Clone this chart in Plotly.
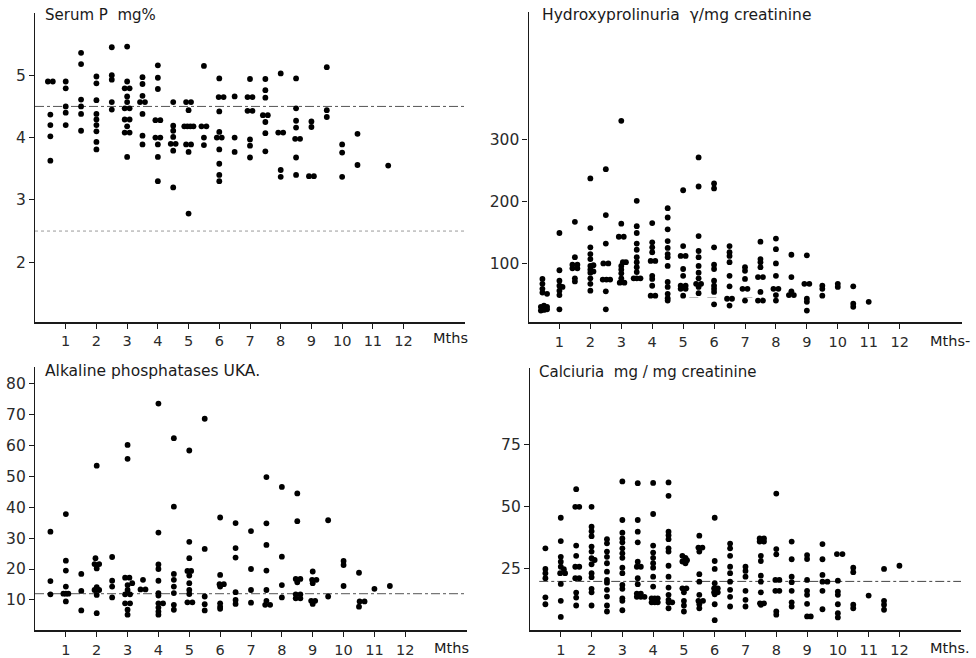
import plotly.graph_objects as go

# ---------------- data (month, value) ----------------
serum_p_points = [
    (0.42, 4.9), (0.58, 4.9), (0.5, 4.37), (0.5, 4.2), (0.5, 4.02), (0.5, 3.63),
    (1.0, 4.9), (1.0, 4.79), (1.0, 4.5), (1.0, 4.4), (1.0, 4.2),
    (1.5, 5.36), (1.5, 5.18), (1.5, 4.61), (1.5, 4.5), (1.5, 4.38), (1.5, 4.11),
    (2.0, 4.98), (2.0, 4.87), (2.0, 4.6), (2.0, 4.38), (2.0, 4.29), (2.0, 4.2), (2.0, 4.1), (2.0, 3.93), (2.0, 3.81),
    (2.5, 5.45), (2.5, 5.0), (2.5, 4.93), (2.5, 4.57), (2.5, 4.45),
    (3.0, 5.46), (3.0, 4.9), (2.92, 4.79), (3.08, 4.79), (3.0, 4.66), (3.0, 4.57), (2.92, 4.47), (3.08, 4.47),
    (2.92, 4.29), (3.08, 4.29), (3.0, 4.18), (2.92, 4.08), (3.08, 4.08), (3.0, 3.69),
    (3.5, 4.97), (3.5, 4.86), (3.5, 4.67), (3.42, 4.57), (3.58, 4.57), (3.5, 4.38), (3.5, 4.03), (3.5, 3.89),
    (4.0, 5.16), (4.0, 4.96), (4.0, 4.78), (3.92, 4.28), (4.08, 4.28), (3.92, 4.0), (4.08, 4.0), (4.0, 3.89), (4.0, 3.69), (4.0, 3.3),
    (4.5, 4.57), (4.5, 4.19), (4.5, 4.11), (4.5, 4.01), (4.42, 3.9), (4.58, 3.9), (4.5, 3.79), (4.5, 3.2),
    (4.92, 4.57), (5.08, 4.57), (5.0, 4.44), (4.86, 4.18), (4.96, 4.18), (5.06, 4.18), (5.16, 4.18),
    (4.92, 3.89), (5.08, 3.89), (5.0, 3.77), (5.0, 2.78),
    (5.5, 5.15), (5.42, 4.18), (5.58, 4.18), (5.5, 4.0), (5.5, 3.88),
    (6.0, 4.95), (5.98, 4.65), (6.14, 4.65), (6.0, 4.42), (6.0, 4.09), (5.92, 4.0), (6.08, 4.0), (6.0, 3.81), (6.0, 3.58), (6.0, 3.4), (6.0, 3.3),
    (6.5, 4.66), (6.5, 4.0), (6.5, 3.77),
    (7.0, 4.94), (6.92, 4.65), (7.08, 4.65), (6.92, 4.43), (7.08, 4.43), (7.0, 3.97), (7.0, 3.87), (7.0, 3.68),
    (7.5, 4.94), (7.5, 4.76), (7.5, 4.64), (7.42, 4.36), (7.58, 4.36), (7.5, 4.25), (7.5, 4.07), (7.5, 3.78),
    (8.0, 5.03), (7.92, 4.08), (8.08, 4.08), (8.0, 3.48), (8.0, 3.37),
    (8.5, 4.95), (8.5, 4.47), (8.5, 4.27), (8.5, 4.16), (8.47, 3.98), (8.63, 3.98), (8.5, 3.68), (8.5, 3.4),
    (9.0, 4.26), (9.0, 4.17), (8.92, 3.38), (9.08, 3.38),
    (9.5, 5.13), (9.5, 4.44), (9.5, 4.33),
    (10.0, 3.89), (10.0, 3.76), (10.0, 3.37),
    (10.5, 4.06), (10.5, 3.56),
    (11.5, 3.55),
]

hydroxy_points = [
    (0.45, 75), (0.45, 67), (0.45, 59), (0.45, 53), (0.6, 51),
    (0.4, 30), (0.5, 32), (0.6, 30), (0.4, 24), (0.5, 25), (0.6, 26), (0.45, 28),
    (1.0, 149), (1.0, 89), (1.0, 72), (1.0, 64), (1.1, 62), (1.0, 56), (1.0, 49), (1.0, 26),
    (1.5, 167), (1.5, 110), (1.42, 98), (1.58, 98), (1.42, 92), (1.58, 92), (1.5, 76), (1.5, 71),
    (2.0, 237), (2.0, 157), (2.0, 126), (2.0, 115), (2.0, 107), (2.0, 96), (2.1, 97), (2.0, 90), (2.1, 87),
    (2.0, 85), (2.0, 76), (2.0, 67), (2.0, 56),
    (2.5, 252), (2.5, 178), (2.5, 132), (2.42, 100), (2.58, 100), (2.4, 74), (2.52, 74), (2.64, 74), (2.5, 55), (2.5, 26),
    (3.0, 330), (3.0, 164), (2.92, 143), (3.08, 143), (3.05, 102), (3.15, 102), (3.0, 96), (3.0, 90), (3.0, 84),
    (3.0, 76), (2.95, 69), (3.1, 69),
    (3.5, 201), (3.5, 160), (3.5, 149), (3.5, 132), (3.5, 122), (3.5, 110), (3.5, 102), (3.5, 94), (3.5, 86),
    (3.4, 76), (3.5, 76), (3.62, 76),
    (4.0, 165), (4.0, 134), (4.0, 126), (4.0, 118), (3.95, 104), (4.1, 104), (4.0, 80), (4.0, 75), (4.0, 64), (3.95, 48), (4.1, 48),
    (4.5, 189), (4.5, 174), (4.5, 155), (4.5, 136), (4.5, 125), (4.5, 115), (4.5, 110), (4.5, 96), (4.5, 70),
    (4.5, 62), (4.5, 51), (4.5, 44), (4.5, 40),
    (5.0, 218), (5.0, 128), (4.92, 112), (5.08, 112), (5.0, 91), (5.0, 80), (4.92, 64), (5.08, 64), (4.92, 59), (5.08, 59), (5.0, 48),
    (5.5, 271), (5.5, 224), (5.5, 144), (5.5, 120), (5.5, 110), (5.5, 96), (5.5, 85), (5.5, 76), (5.42, 67), (5.58, 67), (5.5, 62), (5.5, 52),
    (6.0, 229), (6.0, 221), (6.0, 126), (6.0, 98), (6.0, 91), (6.0, 72), (6.0, 64), (6.0, 59), (6.0, 54), (6.0, 34),
    (6.5, 128), (6.5, 118), (6.5, 112), (6.5, 102), (6.5, 80), (6.5, 63), (6.42, 43), (6.58, 43), (6.5, 32),
    (7.0, 94), (7.0, 88), (7.0, 75), (6.92, 59), (7.08, 59), (7.0, 40),
    (7.5, 135), (7.5, 107), (7.5, 102), (7.5, 94), (7.42, 78), (7.58, 78), (7.5, 54), (7.42, 40), (7.58, 40),
    (8.0, 140), (8.0, 123), (8.0, 100), (8.0, 80), (7.92, 59), (8.08, 59), (8.0, 49), (8.0, 40),
    (8.5, 114), (8.5, 78), (8.5, 55), (8.42, 49), (8.58, 49),
    (9.0, 113), (8.92, 67), (9.08, 67), (9.0, 43), (9.0, 38), (9.0, 24),
    (9.5, 64), (9.5, 59), (9.5, 48),
    (10.0, 67), (10.0, 62),
    (10.5, 63), (10.5, 35), (10.5, 30),
    (11.0, 38),
]

alk_phos_points = [
    (0.5, 32.1), (0.5, 16.1), (0.5, 11.8),
    (1.0, 37.8), (1.0, 22.7), (1.0, 19.5), (1.0, 14.3), (0.92, 12.0), (1.0, 12.0), (1.08, 12.0), (1.0, 9.5),
    (1.5, 18.4), (1.5, 12.9), (1.5, 6.6),
    (2.0, 53.5), (1.96, 23.5), (1.93, 21.6), (2.08, 21.6), (2.0, 20.2), (2.0, 14.1), (1.93, 13.2), (2.08, 13.2), (2.0, 11.6), (2.0, 5.7),
    (2.5, 23.9), (2.5, 16.2), (2.5, 14.3), (2.5, 10.8),
    (3.0, 60.2), (3.0, 55.7), (2.92, 17.2), (3.06, 17.2), (3.15, 15.4), (3.0, 14.8), (3.0, 13.2), (2.92, 11.8), (3.08, 11.8),
    (2.92, 8.9), (3.08, 8.9), (3.0, 6.8), (3.0, 5.2),
    (3.5, 16.5), (3.42, 13.4), (3.58, 13.4),
    (4.0, 73.6), (4.0, 31.8), (4.0, 21.5), (4.0, 20.0), (4.0, 16.2), (4.0, 12.2), (4.0, 11.4), (4.0, 8.9), (4.15, 8.9),
    (4.0, 7.5), (4.0, 6.2), (4.0, 5.2),
    (4.5, 62.4), (4.5, 40.2), (4.5, 18.4), (4.5, 16.5), (4.5, 14.3), (4.5, 12.2), (4.5, 8.4), (4.5, 6.8),
    (5.0, 58.4), (5.0, 28.8), (5.0, 23.5), (4.94, 19.4), (5.06, 19.4), (5.0, 17.9), (5.0, 15.4), (5.0, 13.2), (5.0, 11.9),
    (4.94, 9.2), (5.1, 9.2),
    (5.5, 68.7), (5.5, 26.5), (5.5, 11.1), (5.5, 8.6), (5.5, 6.6),
    (6.0, 36.7), (6.0, 18.1), (5.98, 15.1), (6.12, 15.1), (6.0, 14.3), (6.0, 8.9), (6.0, 7.8), (6.0, 7.1),
    (6.5, 34.9), (6.5, 26.8), (6.5, 23.7), (6.5, 12.5), (6.5, 10.0), (6.5, 8.7),
    (7.0, 32.3), (7.0, 20.0), (7.0, 13.2), (7.0, 9.1),
    (7.5, 49.8), (7.5, 34.8), (7.5, 27.8), (7.5, 19.5), (7.5, 13.2), (7.5, 9.7), (7.46, 8.4), (7.62, 8.4),
    (8.0, 46.6), (8.0, 24.0), (8.0, 14.8), (8.0, 10.8),
    (8.5, 44.5), (8.5, 35.5), (8.45, 16.8), (8.6, 16.8), (8.5, 15.7), (8.45, 11.8), (8.6, 11.8), (8.45, 10.5), (8.6, 10.5),
    (9.0, 19.2), (8.98, 16.5), (9.12, 16.5), (9.0, 15.4), (8.95, 9.7), (9.08, 9.7), (9.0, 8.7),
    (9.5, 35.8), (9.5, 11.1),
    (10.0, 22.6), (10.0, 21.3), (10.0, 14.5),
    (10.5, 18.8), (10.52, 9.5), (10.68, 9.5), (10.5, 7.8),
    (11.0, 13.6),
    (11.5, 14.5),
]

calciuria_points = [
    (0.5, 33.3), (0.5, 25), (0.5, 23.3), (0.5, 21.3), (0.5, 13.6), (0.5, 10.8),
    (1.0, 45.6), (1.0, 36.2), (1.0, 29.9), (1.0, 27.9), (1.0, 25.9), (1.1, 24.9), (0.98, 23.3), (1.14, 23.3), (1.0, 19.0), (1.0, 12.2), (1.0, 5.7),
    (1.5, 57.1), (1.47, 50), (1.6, 50), (1.5, 34.4), (1.5, 30.3), (1.47, 25.9), (1.6, 25.9), (1.47, 21.3), (1.6, 21.3),
    (1.5, 15.5), (1.5, 13.5), (1.5, 10.3),
    (2.0, 50), (2.0, 42), (2.0, 40.2), (2.0, 38.2), (2.0, 34), (2.0, 32), (2.0, 29.3), (2.1, 28.6), (2.0, 26.9),
    (2.0, 23.3), (2.0, 21.7), (2.0, 17), (2.0, 15.6), (2.0, 10.3),
    (2.5, 37), (2.5, 35.3), (2.5, 32), (2.5, 29.9), (2.5, 27.3), (2.5, 23.9), (2.5, 20.6), (2.5, 19.5), (2.5, 16.6),
    (2.5, 13.9), (2.5, 10.3), (2.5, 7.9),
    (3.0, 60.2), (3.0, 44.7), (3.0, 39.6), (3.0, 37.3), (3.0, 35.7), (3.0, 33.3), (3.0, 31.3), (3.0, 29.5), (3.0, 25.5),
    (3.0, 23.3), (3.0, 18.6), (3.0, 17), (3.0, 13.2), (3.0, 12.2), (3.0, 8.4),
    (3.5, 59.5), (3.5, 44.7), (3.5, 40), (3.5, 35.7), (3.5, 27.9), (3.47, 25.9), (3.6, 25.9), (3.5, 21.3), (3.5, 18.9),
    (3.47, 15.1), (3.6, 15.1), (3.47, 13.8), (3.6, 13.8), (3.72, 13.8),
    (4.0, 59.6), (4.0, 47.1), (4.0, 34.4), (4.0, 31.6), (4.0, 29.5), (4.0, 27.3), (4.0, 25.5), (4.0, 21.9), (4.0, 17.9),
    (3.95, 13.2), (4.05, 13.2), (4.15, 13.2), (3.95, 11.6), (4.05, 11.6), (4.15, 11.6),
    (4.5, 59.8), (4.5, 54.4), (4.5, 40), (4.5, 38.6), (4.5, 37), (4.5, 33.3), (4.5, 32), (4.5, 26.3), (4.5, 21.9),
    (4.5, 17.5), (4.5, 14.6), (4.5, 12.6), (4.5, 11.6), (4.62, 11.6), (4.5, 9.2),
    (4.95, 30.3), (5.05, 29.5), (5.1, 28.5), (4.95, 28), (5.05, 27.3), (4.95, 17.2), (5.08, 17.2), (5.0, 15.6),
    (5.0, 12.2), (5.0, 10.3), (5.0, 7.9),
    (5.5, 38.4), (5.47, 33.6), (5.6, 33.6), (5.5, 32), (5.5, 22.9), (5.5, 19.9), (5.5, 14.6), (5.47, 12.2), (5.62, 12.2),
    (5.5, 10.8), (5.5, 9.2),
    (6.0, 45.6), (6.0, 28.2), (6.0, 25), (6.0, 19.3), (5.98, 17.2), (6.1, 17.2), (5.98, 15.6), (6.1, 15.6), (6.0, 14.8),
    (6.0, 10.8), (6.0, 4.4),
    (6.5, 35.2), (6.5, 33.3), (6.5, 30.3), (6.5, 25.9), (6.5, 23.3), (6.5, 19.9), (6.5, 16.6), (6.5, 13.8), (6.5, 9.9),
    (7.0, 25.9), (7.0, 24.2), (7.0, 21.9), (7.0, 16.2), (7.0, 12.6), (7.0, 9.9),
    (7.46, 37.3), (7.6, 37.3), (7.46, 36), (7.6, 36), (7.5, 30.3), (7.5, 28.2), (7.5, 22.3), (7.5, 19.9), (7.5, 15.6),
    (7.47, 11.2), (7.6, 11.2), (7.5, 10.6),
    (8.0, 55.3), (8.0, 33), (8.0, 30.9), (7.97, 20.6), (8.1, 20.6), (7.97, 16.2), (8.1, 16.2), (8.0, 7.9), (8.0, 6.6),
    (8.5, 36), (8.5, 28.9), (8.5, 21.9), (8.5, 19.7), (8.5, 16.2), (8.5, 11.6), (8.5, 9.9),
    (9.0, 30.6), (9.0, 29), (9.0, 20.6), (9.0, 16.2), (9.0, 14.6), (9.0, 11), (9.0, 5.9), (9.12, 5.9),
    (9.5, 35), (9.5, 28.9), (9.5, 22.6), (9.5, 19.9), (9.66, 19.9), (9.5, 16.2), (9.5, 8.8),
    (9.97, 31), (10.15, 31), (10.0, 20.3), (10.0, 15.9), (10.0, 14.6), (10.0, 10.8), (10.0, 7.2), (10.0, 5.5),
    (10.5, 25.5), (10.5, 23.7), (10.5, 10.6), (10.5, 9.2),
    (11.0, 14.3),
    (11.5, 25), (11.5, 12.2), (11.5, 10.6), (11.5, 8.6),
    (12.0, 26.3),
]

month_ticks = list(range(1, 13))
serum_p_ticks = [2, 3, 4, 5]
hydroxy_ticks = [100, 200, 300]
alk_phos_ticks = [10, 20, 30, 40, 50, 60, 70, 80]
calciuria_ticks = [25, 50, 75]

serum_p_refs = [4.5, 2.5]
alk_phos_refs = [12]
calciuria_refs = [20]
hydroxy_refs = [45]

titles = ["Serum P  mg%", "Hydroxyprolinuria  \u03b3/mg creatinine",
          "Alkaline phosphatases UKA.", "Calciuria  mg / mg creatinine"]
month_labels = ["Mths", "Mths-", "Mths", "Mths."]

# ---------------- figure ----------------
W, H = 976, 658
FONT = "DejaVu Sans"
INK = "#1a1a1a"

fig = go.Figure()

panels = [
    # (points, x-domain px, y-domain px (top,bottom), y-range, y ticks)
    (serum_p_points, (35, 465), (13, 323), (1.04, 6.0), serum_p_ticks),
    (hydroxy_points, (528.5, 961.5), (11.7, 323.3), (5, 506), hydroxy_ticks),
    (alk_phos_points, (35, 467), (368, 632.3), (0.12, 85.5), alk_phos_ticks),
    (calciuria_points, (530, 961), (369.3, 632.3), (0.3, 105.75), calciuria_ticks),
]

for i, (pts, xd, yd, yr, yt) in enumerate(panels):
    n = "" if i == 0 else str(i + 1)
    xs, ys = zip(*pts)
    fig.add_trace(go.Scatter(
        x=list(xs), y=list(ys), mode="markers",
        marker=dict(color="black", size=5.8, line=dict(width=0)),
        xaxis="x" + n, yaxis="y" + n, showlegend=False, hoverinfo="x+y"))
    axis_common = dict(showgrid=False, zeroline=False, showline=True,
                       linecolor=INK, ticks="outside", tickcolor=INK,
                       tickwidth=1, ticklen=5)
    fig.layout["xaxis" + n] = dict(
        domain=[xd[0] / W, xd[1] / W], range=[0, 14], tickvals=month_ticks,
        anchor="y" + n, linewidth=1.6,
        tickfont=dict(family=FONT, size=14.5, color="#2a2a2a"), **axis_common)
    fig.layout["yaxis" + n] = dict(
        domain=[1 - yd[1] / H, 1 - yd[0] / H], range=list(yr), tickvals=yt,
        anchor="x" + n, linewidth=1.1,
        tickfont=dict(family=FONT, size=15.5, color="#2a2a2a"), **axis_common)

# reference lines
ref_specs = [
    ("", serum_p_refs, ["dashdot", "dot"], ["#555", "#999"], 0, 14),
    ("3", alk_phos_refs, ["dashdot"], ["#555"], 0, 14),
    ("4", calciuria_refs, ["dashdot"], ["#444"], 0.3, 14),
    ("2", hydroxy_refs, ["dash"], ["#bbbbbb"], 5.2, 7.6),
]
for n, vals, dashes, cols, x0, x1 in ref_specs:
    for v, d, c in zip(vals, dashes, cols):
        fig.add_shape(type="line", xref="x" + n, yref="y" + n,
                      x0=x0, x1=x1, y0=v, y1=v,
                      line=dict(color=c, width=1, dash=d), layer="below")

# titles and month labels
title_pos = [(43, 15), (540, 15), (43, 372), (537, 373)]
title_sizes = [15, 15.5, 15.5, 15]
mths_pos = [(431, 339), (928, 342), (432, 650), (928, 650)]
for t, (x, y), s in zip(titles, title_pos, title_sizes):
    fig.add_annotation(text=t, x=x / W, y=1 - y / H, xref="paper", yref="paper",
                       xanchor="left", yanchor="middle", showarrow=False,
                       font=dict(family=FONT, size=s, color=INK))
for t, (x, y) in zip(month_labels, mths_pos):
    fig.add_annotation(text=t, x=x / W, y=1 - y / H, xref="paper", yref="paper",
                       xanchor="left", yanchor="middle", showarrow=False,
                       font=dict(family=FONT, size=14.5, color=INK))

fig.update_layout(width=W, height=H, margin=dict(l=0, r=0, t=0, b=0),
                  paper_bgcolor="white", plot_bgcolor="white",
                  font=dict(family=FONT, color=INK))

fig.write_html("out.html")
